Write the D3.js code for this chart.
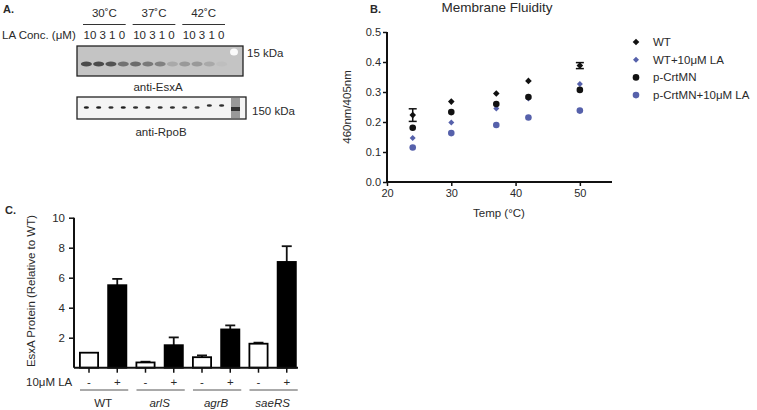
<!DOCTYPE html>
<html><head><meta charset="utf-8">
<script src="https://cdn.jsdelivr.net/npm/d3@7"></script>
<style>
body{margin:0;background:#fff}
text{font-family:"Liberation Sans",Arial,Helvetica,sans-serif;fill:#2a2a2a}
</style>
</head><body><svg id="c" width="757" height="410"></svg>
<script>
// ---------- Panel A data ----------
const temps = ["30˚C", "37˚C", "42˚C"];
const laConc = ["10", "3", "1", "0"];
const esxaIntensity = [0.85, 0.85, 0.8, 0.6, 0.65, 0.55, 0.5, 0.25, 0.35, 0.35, 0.25, 0.12];
const rpobIntensity = [0.9, 0.9, 0.85, 0.9, 0.85, 0.85, 0.85, 0.85, 0.8, 0.8, 0.85, 0.85];

// ---------- Panel B data ----------
const temperatures = [24, 30, 37, 42, 50];
const wt = [0.223, 0.268, 0.295, 0.337, 0.388];
const wtErr = [0.021, 0, 0, 0, 0.010];
const wtLA = [0.147, 0.198, 0.245, 0.278, 0.327];
const crtmn = [0.181, 0.233, 0.260, 0.283, 0.307];
const crtmnLA = [0.115, 0.163, 0.190, 0.215, 0.238];
const seriesNames = ["WT", "WT+10μM LA", "p-CrtMN", "p-CrtMN+10μM LA"];
const xTicksB = [20, 30, 40, 50];
const yTicksB = [0, 0.1, 0.2, 0.3, 0.4, 0.5];

// ---------- Panel C data ----------
const strains = ["WT", "arlS", "agrB", "saeRS"];
const treatments = ["-", "+"];
const esxaNoLA = [1.0, 0.35, 0.7, 1.6];
const esxaNoLAErr = [0, 0.05, 0.12, 0.07];
const esxaLA = [5.5, 1.5, 2.55, 7.05];
const esxaLAErr = [0.42, 0.52, 0.27, 1.05];
const yTicksC = [2, 4, 6, 8, 10];

const svg = d3.select("#c");
const BLUE = "#5661ab";

// ================= Panel A =================
const gA = svg.append("g");
gA.append("text").attr("x", 3).attr("y", 13).attr("font-size", 11).attr("font-weight", "bold").text("A.");
const lane = d3.scaleBand().domain(d3.range(12)).range([79, 229]).padding(0.2);
const groupX = d3.scaleBand().domain(temps).range([83, 225]).paddingInner(0.14);
gA.selectAll(".tl").data(temps).join("text")
  .attr("x", d => groupX(d) + groupX.bandwidth() / 2).attr("y", 17)
  .attr("text-anchor", "middle").attr("font-size", 11.5).text(d => d);
gA.selectAll(".tline").data(temps).join("line")
  .attr("x1", d => groupX(d)).attr("x2", d => groupX(d) + groupX.bandwidth())
  .attr("y1", 24.5).attr("y2", 24.5).attr("stroke", "#333").attr("stroke-width", 1);
gA.append("text").attr("x", 2).attr("y", 39).attr("font-size", 11.5).text("LA Conc. (μM)");
gA.selectAll(".conc").data(temps).join("text")
  .attr("x", d => groupX(d) + groupX.bandwidth() / 2).attr("y", 39)
  .attr("text-anchor", "middle").attr("font-size", 11.5).text(laConc.join(" "));

// blot 1 (EsxA)
gA.append("rect").attr("x", 77).attr("y", 46).attr("width", 166).attr("height", 30)
  .attr("fill", "#c4c4c4").attr("stroke", "#222").attr("stroke-width", 1.3);
gA.selectAll(".eb").data(esxaIntensity).join("ellipse")
  .attr("cx", (d, i) => lane(i) + lane.bandwidth() / 2).attr("cy", 64)
  .attr("rx", 5.5).attr("ry", 2.6)
  .attr("fill", d => d3.interpolateGreys(0.3 + d * 0.55));
gA.append("ellipse").attr("cx", 234).attr("cy", 52).attr("rx", 4).attr("ry", 3.5).attr("fill", "#fafafa");
gA.append("text").attr("x", 247).attr("y", 57).attr("font-size", 11.5).text("15 kDa");
gA.append("text").attr("x", 158).attr("y", 91).attr("text-anchor", "middle").attr("font-size", 11.5).text("anti-EsxA");

// blot 2 (RpoB)
gA.append("rect").attr("x", 77).attr("y", 97).attr("width", 169).attr("height", 22)
  .attr("fill", "#f4f4f4").attr("stroke", "#222").attr("stroke-width", 1.3);
gA.selectAll(".rb").data(rpobIntensity).join("ellipse")
  .attr("cx", (d, i) => lane(i) + lane.bandwidth() / 2).attr("cy", (d, i) => i >= 10 ? 105.5 : 107.5)
  .attr("rx", 2.6).attr("ry", 1.3)
  .attr("fill", d => d3.interpolateGreys(d));
gA.append("rect").attr("x", 231).attr("y", 98).attr("width", 9).attr("height", 20).attr("fill", "#999");
gA.append("rect").attr("x", 231).attr("y", 107).attr("width", 9).attr("height", 4).attr("fill", "#333");
gA.append("text").attr("x", 252).attr("y", 115).attr("font-size", 11.5).text("150 kDa");
gA.append("text").attr("x", 161).attr("y", 136).attr("text-anchor", "middle").attr("font-size", 11.5).text("anti-RpoB");

// ================= Panel B =================
const gB = svg.append("g");
gB.append("text").attr("x", 370).attr("y", 13).attr("font-size", 11).attr("font-weight", "bold").text("B.");
const xB = d3.scaleLinear().domain([20, 55]).range([387, 612]);
const yB = d3.scaleLinear().domain([0, 0.5]).range([182, 32]);
gB.append("text").attr("x", 497).attr("y", 12).attr("text-anchor", "middle").attr("font-size", 13.5).text("Membrane Fluidity");

const axB = gB.append("g").attr("transform", "translate(0,182)")
  .call(d3.axisBottom(xB).tickValues(xTicksB).tickSize(4).tickPadding(3).tickFormat(d3.format("d")));
const ayB = gB.append("g").attr("transform", "translate(387,0)")
  .call(d3.axisLeft(yB).tickValues(yTicksB).tickSize(4).tickPadding(2).tickFormat(d3.format(".1f")));
[axB, ayB].forEach(a => {
  a.select(".domain").attr("stroke", "#111").attr("stroke-width", 2);
  a.selectAll(".tick line").attr("stroke", "#111").attr("stroke-width", 1.5);
  a.selectAll(".tick text").attr("font-size", 11).attr("fill", "#2a2a2a")
    .attr("font-family", '"Liberation Sans",Arial,sans-serif');
});
axB.select(".domain").attr("d", `M${xB(20)},0H${xB(55)}`);
ayB.select(".domain").attr("d", `M0,${yB(0)}V${yB(0.5)}`);
gB.append("text").attr("x", 499).attr("y", 217).attr("text-anchor", "middle").attr("font-size", 11.5).text("Temp (°C)");
gB.append("text").attr("transform", "translate(351,107) rotate(-90)").attr("text-anchor", "middle").attr("font-size", 11.5).text("460nm/405nm");

const diamond = s => `M0,${-s}L${s},0L0,${s}L${-s},0Z`;
// error bars for WT
const errData = temperatures.map((t, i) => ({t, v: wt[i], e: wtErr[i]})).filter(d => d.e > 0);
const eg = gB.selectAll(".err").data(errData).join("g");
eg.append("line").attr("x1", d => xB(d.t)).attr("x2", d => xB(d.t))
  .attr("y1", d => yB(d.v - d.e)).attr("y2", d => yB(d.v + d.e)).attr("stroke", "#111").attr("stroke-width", 1.5);
eg.append("line").attr("x1", d => xB(d.t) - 4).attr("x2", d => xB(d.t) + 4)
  .attr("y1", d => yB(d.v - d.e)).attr("y2", d => yB(d.v - d.e)).attr("stroke", "#111").attr("stroke-width", 1.5);
eg.append("line").attr("x1", d => xB(d.t) - 4).attr("x2", d => xB(d.t) + 4)
  .attr("y1", d => yB(d.v + d.e)).attr("y2", d => yB(d.v + d.e)).attr("stroke", "#111").attr("stroke-width", 1.5);

const series = [
  {vals: crtmnLA, shape: "c", color: BLUE, size: 3.3},
  {vals: wtLA, shape: "d", color: BLUE, size: 3},
  {vals: crtmn, shape: "c", color: "#111", size: 3.3},
  {vals: wt, shape: "d", color: "#111", size: 3.3}
];
series.forEach(s => {
  const pts = temperatures.map((t, i) => ({t, v: s.vals[i]}));
  if (s.shape === "c") {
    gB.selectAll(null).data(pts).join("circle").attr("cx", d => xB(d.t)).attr("cy", d => yB(d.v))
      .attr("r", s.size).attr("fill", s.color);
  } else {
    gB.selectAll(null).data(pts).join("path").attr("transform", d => `translate(${xB(d.t)},${yB(d.v)})`)
      .attr("d", diamond(s.size)).attr("fill", s.color);
  }
});
// legend
const legend = [
  {name: seriesNames[0], shape: "d", color: "#111", size: 3.3},
  {name: seriesNames[1], shape: "d", color: BLUE, size: 3},
  {name: seriesNames[2], shape: "c", color: "#111", size: 3.3},
  {name: seriesNames[3], shape: "c", color: BLUE, size: 3.3}
];
const lg = gB.selectAll(".lg").data(legend).join("g").attr("transform", (d, i) => `translate(636,${42 + i * 17.7})`);
lg.each(function(d) {
  const g = d3.select(this);
  if (d.shape === "c") g.append("circle").attr("r", d.size).attr("fill", d.color);
  else g.append("path").attr("d", diamond(d.size)).attr("fill", d.color);
  g.append("text").attr("x", 17).attr("y", 4).attr("font-size", 11.5).text(d.name);
});

// ================= Panel C =================
const gC = svg.append("g");
gC.append("text").attr("x", 5).attr("y", 214).attr("font-size", 11).attr("font-weight", "bold").text("C.");
const barKeys = [];
strains.forEach((s, i) => treatments.forEach((t, j) => barKeys.push({
  key: s + t, strain: s, t, v: j === 0 ? esxaNoLA[i] : esxaLA[i], e: j === 0 ? esxaNoLAErr[i] : esxaLAErr[i]
})));
const xC = d3.scaleBand().domain(barKeys.map(d => d.key)).range([74, 301.75]).paddingInner(0.292).paddingOuter(0.177);
const yC = d3.scaleLinear().domain([0, 10]).range([367.7, 217.7]);

// error bars (upward)
gC.selectAll(".eb").data(barKeys.filter(d => d.e > 0)).join("line")
  .attr("x1", d => xC(d.key) + xC.bandwidth() / 2).attr("x2", d => xC(d.key) + xC.bandwidth() / 2)
  .attr("y1", d => yC(d.v)).attr("y2", d => yC(d.v + d.e)).attr("stroke", "#111").attr("stroke-width", 1.8);
gC.selectAll(".ec").data(barKeys.filter(d => d.e > 0)).join("line")
  .attr("x1", d => xC(d.key) + xC.bandwidth() / 2 - 5).attr("x2", d => xC(d.key) + xC.bandwidth() / 2 + 5)
  .attr("y1", d => yC(d.v + d.e)).attr("y2", d => yC(d.v + d.e)).attr("stroke", "#111").attr("stroke-width", 1.8);
gC.selectAll(".bar").data(barKeys).join("rect")
  .attr("x", d => xC(d.key) + 0.9).attr("width", xC.bandwidth() - 1.8)
  .attr("y", d => yC(d.v)).attr("height", d => yC(0) - yC(d.v))
  .attr("fill", d => d.t === "+" ? "#000" : "#fff").attr("stroke", "#000").attr("stroke-width", 1.8);

const ayC = gC.append("g").attr("transform", "translate(74,0)")
  .call(d3.axisLeft(yC).tickValues(yTicksC).tickSize(5).tickPadding(4));
ayC.select(".domain").attr("d", `M0,${yC(0)}V${yC(10)}`).attr("stroke", "#111").attr("stroke-width", 2);
ayC.selectAll(".tick line").attr("stroke", "#111").attr("stroke-width", 1.5);
ayC.selectAll(".tick text").attr("font-size", 11.5).attr("fill", "#2a2a2a").attr("font-family", '"Liberation Sans",Arial,sans-serif');

const axC = gC.append("g").attr("transform", `translate(0,${yC(0)})`)
  .call(d3.axisBottom(xC).tickSize(5).tickFormat(""));
axC.select(".domain").attr("d", `M74,0H298`).attr("stroke", "#111").attr("stroke-width", 2);
axC.selectAll(".tick line").attr("stroke", "#111").attr("stroke-width", 1.5);

gC.append("text").attr("x", 26).attr("y", 386).attr("font-size", 11.5).text("10μM LA");
gC.selectAll(".pm").data(barKeys).join("text")
  .attr("x", d => xC(d.key) + xC.bandwidth() / 2).attr("y", 386)
  .attr("text-anchor", "middle").attr("font-size", 11.5).text(d => d.t);
gC.selectAll(".gl").data(strains).join("line")
  .attr("x1", d => xC(d + "-") + 1).attr("x2", d => xC(d + "+") + xC.bandwidth() + 1)
  .attr("y1", 390).attr("y2", 390).attr("stroke", "#555").attr("stroke-width", 1);
gC.selectAll(".gt").data(strains).join("text")
  .attr("x", d => (xC(d + "-") + xC(d + "+") + xC.bandwidth()) / 2).attr("y", 407)
  .attr("text-anchor", "middle").attr("font-size", 11.5)
  .attr("font-style", (d, i) => i === 0 ? "normal" : "italic").text(d => d);
gC.append("text").attr("transform", "translate(35,291) rotate(-90)").attr("text-anchor", "middle")
  .attr("font-size", 11.5).text("EsxA Protein (Relative to WT)");
</script></body></html>
